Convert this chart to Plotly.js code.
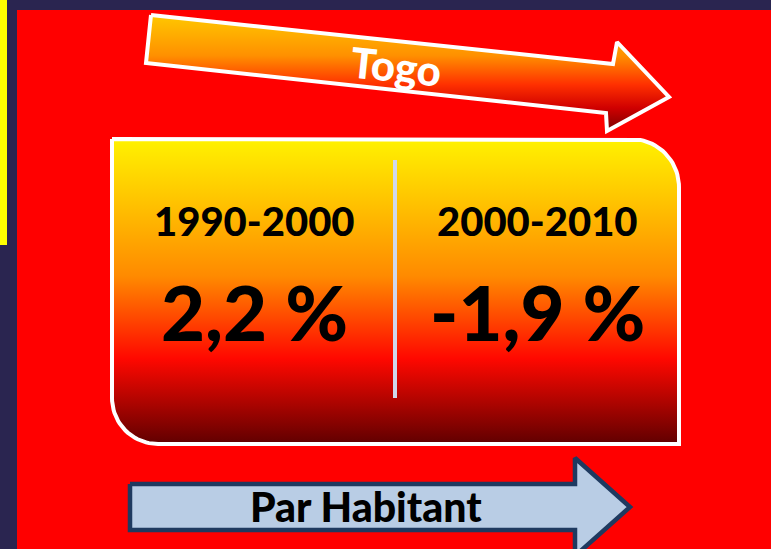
<!DOCTYPE html>
<html>
<head>
<meta charset="utf-8">
<script src="https://cdn.plot.ly/plotly-3.0.1.min.js"></script>
<style>html,body{margin:0;padding:0;background:#2a2550;}#chart{width:771px;height:549px;}</style>
</head>
<body>
<div id="chart"></div>
<script>
// ---- data ----
const country = 'Togo';
const subtitle = 'Par Habitant';
const periods = ['1990-2000', '2000-2010'];
const growth = [2.2, -1.9];   // % growth per inhabitant

// ---- helpers (geometry only) ----
function arc(cx, cy, r, a0, a1, n) {
  const xs = [], ys = [];
  for (let i = 0; i <= n; i++) {
    const a = (a0 + (a1 - a0) * i / n) * Math.PI / 180;
    xs.push(cx + r * Math.cos(a)); ys.push(cy + r * Math.sin(a));
  }
  return [xs, ys];
}
function fmt(v) { return v.toFixed(1).replace('.', ',') + ' %'; }

// Main rounded box outline
const bx0 = 112, bx1 = 679, by0 = 139, by1 = 444, r1 = 48, r2 = 46;
let boxX = [bx0], boxY = [by0];
let a = arc(bx1 - r1, by0 + r1, r1, -90, 0, 24);
boxX = boxX.concat(a[0]); boxY = boxY.concat(a[1]);
boxX.push(bx1); boxY.push(by1);
a = arc(bx0 + r2, by1 - r2, r2, 90, 180, 24);
boxX = boxX.concat(a[0]); boxY = boxY.concat(a[1]);
boxX.push(bx0); boxY.push(by0);

// Togo arrow outline
const tX = [151, 613, 617, 669, 607, 606, 146, 151];
const tY = [15, 64, 42, 97, 131, 113, 63, 15];

// Par Habitant arrow outline
const pX = [130, 575, 575, 630, 575, 575, 130, 130];
const pY = [484, 484, 458, 507, 556, 530, 530, 484];

const traces = [
  {
    x: tX, y: tY, type: 'scatter', mode: 'lines', fill: 'toself',
    line: {color: '#ffffff', width: 4},
    fillgradient: {type: 'vertical', start: 15, stop: 131,
      colorscale: [[0, '#ffc800'], [0.35, '#ff9000'], [0.6, '#ff3000'], [0.8, '#d00000'], [1, '#7a0000']]},
    hoverinfo: 'skip', showlegend: false
  },
  {
    x: boxX, y: boxY, type: 'scatter', mode: 'lines', fill: 'toself',
    line: {color: '#ffffff', width: 4},
    fillgradient: {type: 'vertical', start: by0, stop: by1,
      colorscale: [[0, '#fff200'], [0.22, '#ffc000'], [0.45, '#ff8a00'], [0.72, '#ff0800'], [1, '#600000']]},
    hoverinfo: 'skip', showlegend: false
  },
  {
    x: pX, y: pY, type: 'scatter', mode: 'lines', fill: 'toself',
    fillcolor: '#b9cde5', line: {color: '#1f3a60', width: 4.5},
    hoverinfo: 'skip', showlegend: false
  }
];

const colX = [254, 537];
const annotations = [];
periods.forEach((p, i) => {
  annotations.push({x: colX[i], y: 221, text: p, showarrow: false, xref: 'x', yref: 'y',
    font: {family: 'Lato', size: 40, color: '#000', weight: 900}});
  annotations.push({x: colX[i], y: 311, text: fmt(growth[i]), showarrow: false, xref: 'x', yref: 'y',
    font: {family: 'Lato', size: 76, color: '#000', weight: 900}});
});
annotations.push({x: 396, y: 66, text: country, showarrow: false, textangle: 6, xref: 'x', yref: 'y',
  font: {family: 'Lato', size: 42, color: '#ffffff', weight: 900}});
annotations.push({x: 366, y: 506, text: subtitle, showarrow: false, xref: 'x', yref: 'y',
  font: {family: 'Lato', size: 41, color: '#000', weight: 900}});

const layout = {
  width: 771, height: 549,
  margin: {l: 0, r: 0, t: 0, b: 0},
  paper_bgcolor: '#2a2550', plot_bgcolor: 'rgba(0,0,0,0)',
  xaxis: {range: [0, 771], visible: false, fixedrange: true},
  yaxis: {range: [549, 0], visible: false, fixedrange: true},
  showlegend: false,
  shapes: [
    {type: 'rect', xref: 'x', yref: 'y', x0: 17, x1: 771, y0: 10, y1: 549, fillcolor: '#ff0000', line: {width: 0}, layer: 'below'},
    {type: 'rect', xref: 'x', yref: 'y', x0: 0, x1: 7, y0: 0, y1: 245, fillcolor: '#ffff00', line: {width: 0}, layer: 'below'},
    {type: 'line', xref: 'x', yref: 'y', x0: 395, x1: 395, y0: 160, y1: 398, line: {color: '#d0d8ea', width: 4}, layer: 'above'}
  ],
  annotations: annotations
};

Plotly.newPlot('chart', traces, layout, {staticPlot: true, displayModeBar: false});
</script>
</body>
</html>
